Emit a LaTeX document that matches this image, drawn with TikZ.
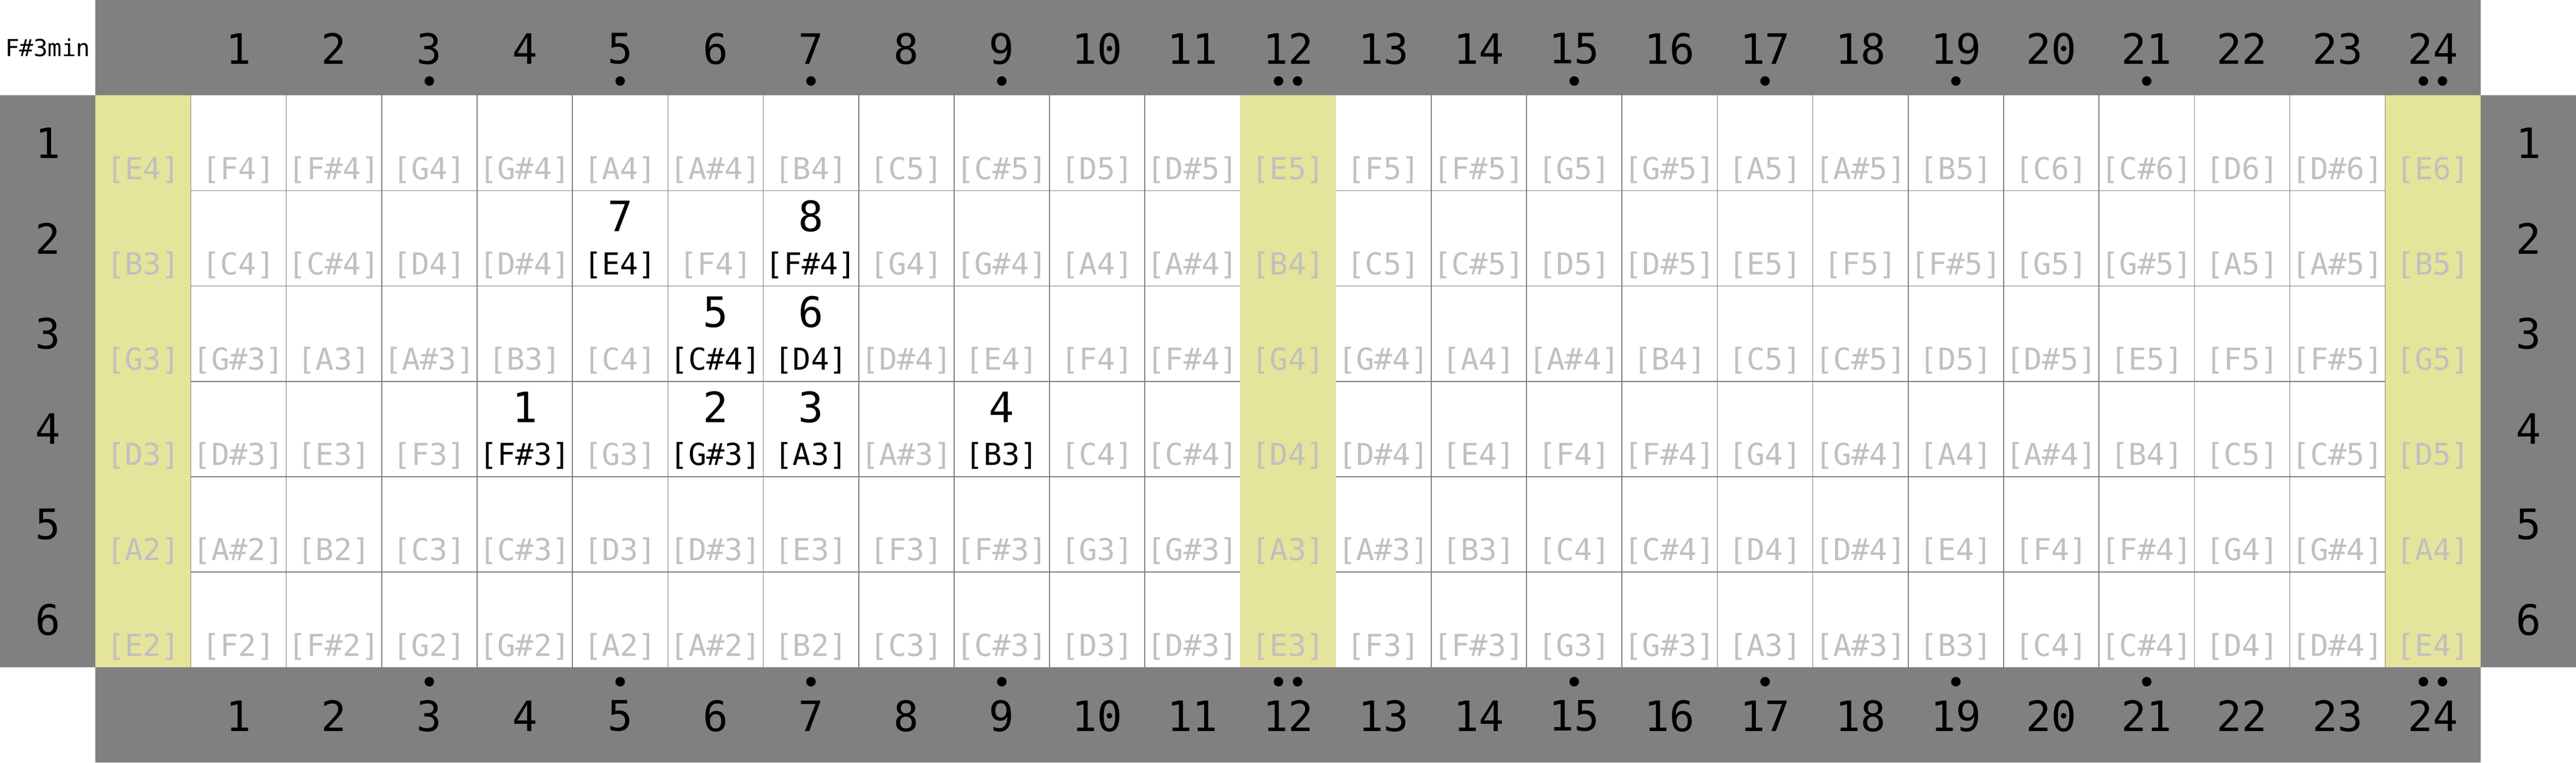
\documentclass[tikz,border=0pt]{standalone}
\usepackage{fontspec}
\setmonofont{DejaVu Sans Mono}
\usepackage{xcolor}

\definecolor{barGray}{RGB}{128,128,128}
\definecolor{nutYellow}{RGB}{228,228,155}
\definecolor{offNote}{RGB}{192,192,192}
\definecolor{fretLine}{RGB}{120,120,120}

\newcommand\pitchname[1]{\ifcase#1 C\or C\#\or D\or D\#\or E\or F\or F\#\or G\or G\#\or A\or A\#\or B\fi}

\begin{document}
\begin{tikzpicture}[font=\ttfamily, inner sep=0pt]
	\tikzstyle{fretnum}=[font=\ttfamily\fontsize{12.5}{13}\selectfont]
	\tikzstyle{fingernum}=[font=\ttfamily\fontsize{12.5}{13}\selectfont, anchor=base]
	\tikzstyle{noteoff}=[font=\ttfamily\fontsize{9}{10}\selectfont, anchor=base, text=offNote]
	\tikzstyle{noteon}=[noteoff, text=black]
	\tikzstyle{chordname}=[font=\ttfamily\fontsize{7}{8}\selectfont]
	\tikzstyle{inlay}=[fill=black]
	
	\useasboundingbox (0,0) rectangle (27,8);
	
	% bars round the neck
	\fill[barGray] (1,7) rectangle (26,8);
	\fill[barGray] (1,0) rectangle (26,1);
	\fill[barGray] (0,1) rectangle (1,7);
	\fill[barGray] (26,1) rectangle (27,7);
	
	% frets and strings
	\foreach \f in {2,...,26}
		\draw[fretLine, line width=0.25pt] (\f,1) -- (\f,7);
	\foreach \r in {2,...,6}
		\draw[fretLine, line width=0.25pt] (1,\r) -- (26,\r);
	\foreach \f in {0,12,24}
		\fill[nutYellow] (\f+1,1) rectangle (\f+2,7);
	
	\node[chordname] (chord) at (0.5,7.5) {F\#3min};
	
	% fret numbers and inlays
	\foreach \f in {1,...,24}{
		\node[fretnum] (top-\f) at (\f+1.5,7.49) {\f};
		\node[fretnum] (bot-\f) at (\f+1.5,0.49) {\f};
	}
	\foreach \f in {3,5,7,9,15,17,19,21}{
		\fill[inlay] (\f+1.5,7.15) circle (0.05);
		\fill[inlay] (\f+1.5,0.85) circle (0.05);
	}
	\foreach \f in {12,24}{
		\fill[inlay] (\f+1.4,7.15) circle (0.05);
		\fill[inlay] (\f+1.6,7.15) circle (0.05);
		\fill[inlay] (\f+1.4,0.85) circle (0.05);
		\fill[inlay] (\f+1.6,0.85) circle (0.05);
	}
	
	% string numbers
	\foreach \s in {1,...,6}{
		\node[fretnum] (left-\s) at (0.5,7.5-\s) {\s};
		\node[fretnum] (right-\s) at (26.5,7.5-\s) {\s};
	}
	
	% fingering
	\foreach \s/\f/\n in {4/4/1,4/6/2,4/7/3,4/9/4,3/6/5,3/7/6,2/5/7,2/7/8}{
		\expandafter\xdef\csname fing-\s-\f\endcsname{\n}
		\node[fingernum] (finger-\n) at (\f+1.5,7.57-\s) {\n};
	}
	
	% note names
	\foreach \s/\base in {1/52,2/47,3/43,4/38,5/33,6/28}{
		\foreach \f in {0,...,24}{
			\pgfmathtruncatemacro\pc{mod(\base+\f,12)}
			\pgfmathtruncatemacro\oct{floor((\base+\f)/12)}
			\ifcsname fing-\s-\f\endcsname\def\lbl{noteon}\else\def\lbl{noteoff}\fi
			\node[\lbl] (note-\s-\f) at (\f+1.5,7.12-\s) {[\pitchname{\pc}\oct]};
		}
	}
\end{tikzpicture}
\end{document}
